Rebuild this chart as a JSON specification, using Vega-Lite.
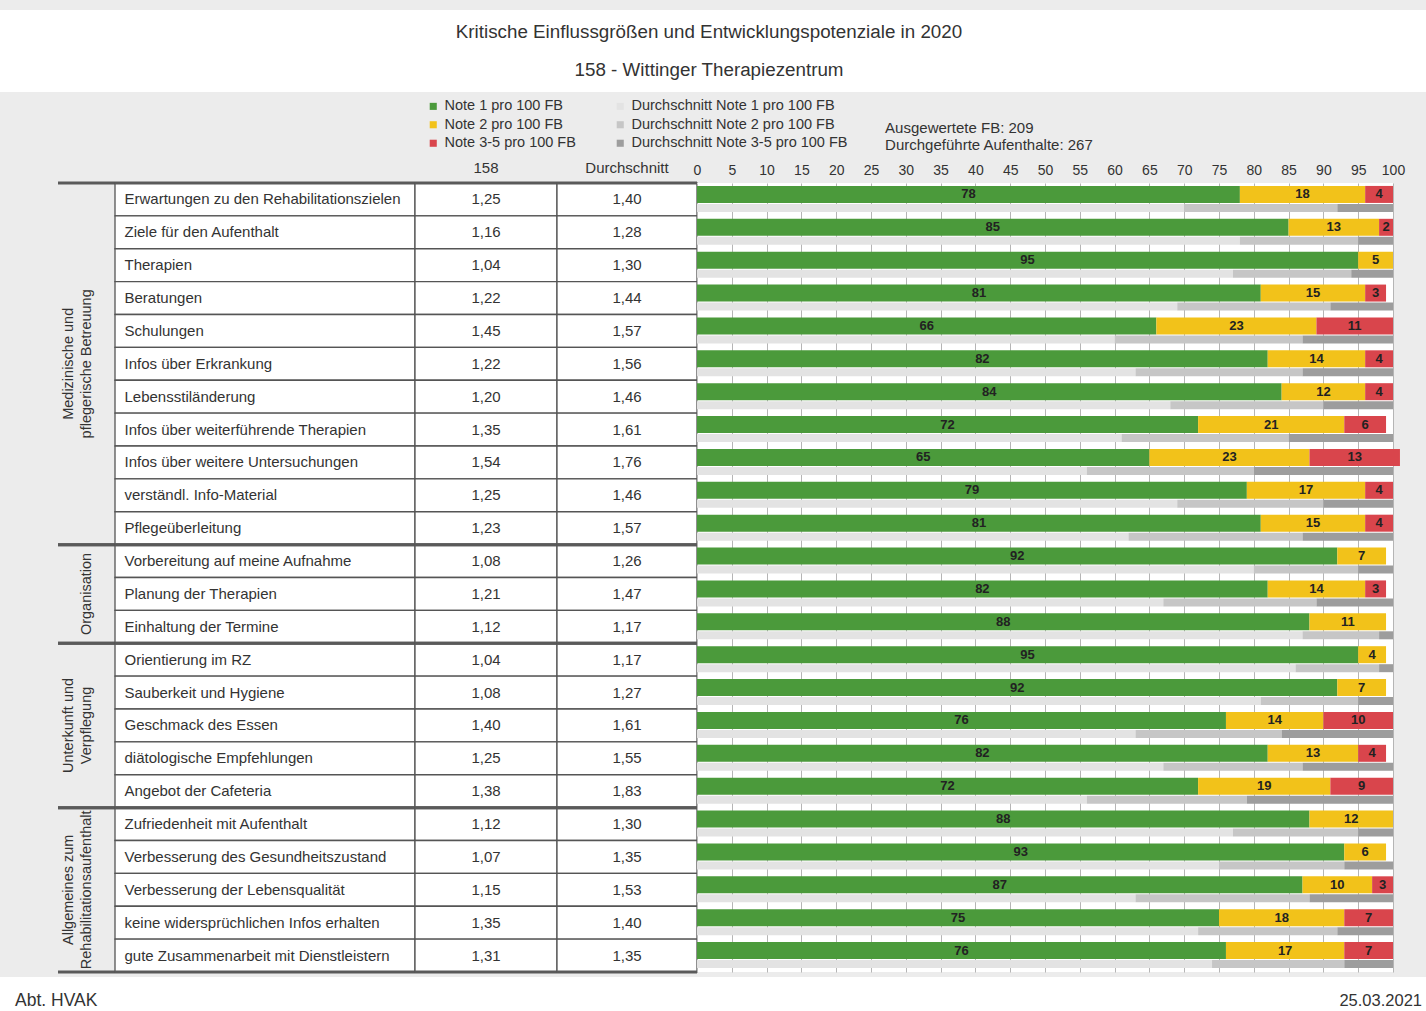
{
  "$schema": "https://vega.github.io/schema/vega-lite/v6.json",
  "background": "#ececec",
  "padding": {"left": 0, "right": 0, "top": 10, "bottom": 0},
  "config": {
    "font": "Liberation Sans",
    "view": {"stroke": null},
    "title": {"fontWeight": "normal", "color": "#333333", "fontSize": 15}
  },
  "datasets": {
    "rows": [
      {"item": "Erwartungen zu den Rehabilitationszielen", "group": "Medizinische und\npflegerische Betreuung", "s158": "1,25", "savg": "1,40", "n1": 78, "n2": 18, "n3": 4, "a1": 70, "a2": 22, "a3": 8},
      {"item": "Ziele für den Aufenthalt", "group": "Medizinische und\npflegerische Betreuung", "s158": "1,16", "savg": "1,28", "n1": 85, "n2": 13, "n3": 2, "a1": 78, "a2": 17, "a3": 5},
      {"item": "Therapien", "group": "Medizinische und\npflegerische Betreuung", "s158": "1,04", "savg": "1,30", "n1": 95, "n2": 5, "n3": 0, "a1": 77, "a2": 17, "a3": 6},
      {"item": "Beratungen", "group": "Medizinische und\npflegerische Betreuung", "s158": "1,22", "savg": "1,44", "n1": 81, "n2": 15, "n3": 3, "a1": 69, "a2": 22, "a3": 9},
      {"item": "Schulungen", "group": "Medizinische und\npflegerische Betreuung", "s158": "1,45", "savg": "1,57", "n1": 66, "n2": 23, "n3": 11, "a1": 60, "a2": 27, "a3": 13},
      {"item": "Infos über Erkrankung", "group": "Medizinische und\npflegerische Betreuung", "s158": "1,22", "savg": "1,56", "n1": 82, "n2": 14, "n3": 4, "a1": 63, "a2": 24, "a3": 13},
      {"item": "Lebensstiländerung", "group": "Medizinische und\npflegerische Betreuung", "s158": "1,20", "savg": "1,46", "n1": 84, "n2": 12, "n3": 4, "a1": 68, "a2": 22, "a3": 10},
      {"item": "Infos über weiterführende Therapien", "group": "Medizinische und\npflegerische Betreuung", "s158": "1,35", "savg": "1,61", "n1": 72, "n2": 21, "n3": 6, "a1": 61, "a2": 24, "a3": 15},
      {"item": "Infos über weitere Untersuchungen", "group": "Medizinische und\npflegerische Betreuung", "s158": "1,54", "savg": "1,76", "n1": 65, "n2": 23, "n3": 13, "a1": 56, "a2": 24, "a3": 20},
      {"item": "verständl. Info-Material", "group": "Medizinische und\npflegerische Betreuung", "s158": "1,25", "savg": "1,46", "n1": 79, "n2": 17, "n3": 4, "a1": 69, "a2": 21, "a3": 10},
      {"item": "Pflegeüberleitung", "group": "Medizinische und\npflegerische Betreuung", "s158": "1,23", "savg": "1,57", "n1": 81, "n2": 15, "n3": 4, "a1": 62, "a2": 25, "a3": 13},
      {"item": "Vorbereitung auf meine Aufnahme", "group": "Organisation", "s158": "1,08", "savg": "1,26", "n1": 92, "n2": 7, "n3": 0, "a1": 80, "a2": 15, "a3": 5},
      {"item": "Planung der Therapien", "group": "Organisation", "s158": "1,21", "savg": "1,47", "n1": 82, "n2": 14, "n3": 3, "a1": 67, "a2": 22, "a3": 11},
      {"item": "Einhaltung der Termine", "group": "Organisation", "s158": "1,12", "savg": "1,17", "n1": 88, "n2": 11, "n3": 0, "a1": 87, "a2": 11, "a3": 2},
      {"item": "Orientierung im RZ", "group": "Unterkunft und\nVerpflegung", "s158": "1,04", "savg": "1,17", "n1": 95, "n2": 4, "n3": 0, "a1": 86, "a2": 12, "a3": 2},
      {"item": "Sauberkeit und Hygiene", "group": "Unterkunft und\nVerpflegung", "s158": "1,08", "savg": "1,27", "n1": 92, "n2": 7, "n3": 0, "a1": 81, "a2": 14, "a3": 5},
      {"item": "Geschmack des Essen", "group": "Unterkunft und\nVerpflegung", "s158": "1,40", "savg": "1,61", "n1": 76, "n2": 14, "n3": 10, "a1": 63, "a2": 21, "a3": 16},
      {"item": "diätologische Empfehlungen", "group": "Unterkunft und\nVerpflegung", "s158": "1,25", "savg": "1,55", "n1": 82, "n2": 13, "n3": 4, "a1": 67, "a2": 20, "a3": 13},
      {"item": "Angebot der Cafeteria", "group": "Unterkunft und\nVerpflegung", "s158": "1,38", "savg": "1,83", "n1": 72, "n2": 19, "n3": 9, "a1": 56, "a2": 23, "a3": 21},
      {"item": "Zufriedenheit mit Aufenthalt", "group": "Allgemeines zum\nRehabilitationsaufenthalt", "s158": "1,12", "savg": "1,30", "n1": 88, "n2": 12, "n3": 0, "a1": 77, "a2": 18, "a3": 5},
      {"item": "Verbesserung des Gesundheitszustand", "group": "Allgemeines zum\nRehabilitationsaufenthalt", "s158": "1,07", "savg": "1,35", "n1": 93, "n2": 6, "n3": 0, "a1": 75, "a2": 18, "a3": 7},
      {"item": "Verbesserung der Lebensqualität", "group": "Allgemeines zum\nRehabilitationsaufenthalt", "s158": "1,15", "savg": "1,53", "n1": 87, "n2": 10, "n3": 3, "a1": 63, "a2": 25, "a3": 12},
      {"item": "keine widersprüchlichen Infos erhalten", "group": "Allgemeines zum\nRehabilitationsaufenthalt", "s158": "1,35", "savg": "1,40", "n1": 75, "n2": 18, "n3": 7, "a1": 72, "a2": 20, "a3": 8},
      {"item": "gute Zusammenarbeit mit Dienstleistern", "group": "Allgemeines zum\nRehabilitationsaufenthalt", "s158": "1,31", "savg": "1,35", "n1": 76, "n2": 17, "n3": 7, "a1": 74, "a2": 19, "a3": 7}
    ]
  },
  "spacing": 3,
  "vconcat": [
    {
      "width": 1426,
      "height": 82,
      "view": {"fill": "white"},
      "data": {"values": [
        {"line": "Kritische Einflussgrößen und Entwicklungspotenziale in 2020"},
        {"line": "158 - Wittinger Therapiezentrum"}
      ]},
      "mark": {"type": "text", "fontSize": 18.8, "color": "#333333", "dx": -4},
      "encoding": {
        "y": {"field": "line", "type": "nominal", "sort": null, "axis": null, "scale": {"type": "band", "paddingInner": 0, "paddingOuter": 0.1}},
        "text": {"field": "line", "type": "nominal"}
      }
    },
    {
      "spacing": 0,
      "bounds": "flush",
      "hconcat": [
        {
          "width": 58,
          "height": 789,
          "title": {"text": "\u00a0", "offset": 73, "fontSize": 15},
          "data": {"values": []},
          "mark": "point"
        },
        {
          "width": 57,
          "height": 789,
          "data": {"name": "rows"},
          "transform": [
            {"window": [{"op": "row_number", "as": "rn"}], "groupby": ["group"]},
            {"joinaggregate": [{"op": "count", "as": "n"}], "groupby": ["group"]}
          ],
          "encoding": {
            "y": {"field": "item", "type": "nominal", "sort": null, "axis": null, "scale": {"type": "band", "paddingInner": 0, "paddingOuter": 0}}
          },
          "layer": [
            {
              "mark": {"type": "text", "angle": 270, "lineBreak": "\n", "baseline": "bottom", "dy": 7, "fontSize": 14.5, "lineHeight": 18, "color": "#333333"},
              "encoding": {
                "text": {"condition": {"test": "datum.rn == (datum.n + 1) / 2 && datum.group == 'Organisation'", "field": "group", "type": "nominal"}, "value": ""}
              }
            },
            {
              "mark": {"type": "text", "angle": 270, "lineBreak": "\n", "baseline": "bottom", "dy": -11, "fontSize": 14.5, "lineHeight": 18, "color": "#333333"},
              "encoding": {
                "text": {"condition": {"test": "datum.rn == (datum.n + 1) / 2 && datum.group != 'Organisation'", "field": "group", "type": "nominal"}, "value": ""}
              }
            },
            {
              "mark": {"type": "rule", "color": "#5a5a5a", "strokeWidth": 3},
              "encoding": {
                "y": {"field": "item", "type": "nominal", "sort": null, "axis": null, "bandPosition": 0},
                "opacity": {"condition": {"test": "datum.rn == 1", "value": 1}, "value": 0}
              }
            },
            {
              "mark": {"type": "rule", "color": "#5a5a5a", "strokeWidth": 3},
              "encoding": {
                "y": {"field": "item", "type": "nominal", "sort": null, "axis": null, "bandPosition": 1},
                "opacity": {"condition": {"test": "datum.rn == datum.n", "value": 1}, "value": 0}
              }
            }
          ]
        },
        {
          "width": 300,
          "height": 789,
          "data": {"name": "rows"},
          "transform": [
            {"window": [{"op": "row_number", "as": "rn"}], "groupby": ["group"]},
            {"joinaggregate": [{"op": "count", "as": "n"}], "groupby": ["group"]}
          ],
          "encoding": {
            "y": {"field": "item", "type": "nominal", "sort": null, "scale": {"type": "band", "paddingInner": 0, "paddingOuter": 0},
              "axis": {"orient": "left", "title": null, "domain": false, "ticks": false, "tickSize": 0, "labelPadding": -9, "labelAlign": "left", "labelFontSize": 15, "labelColor": "#333333", "labelLimit": 300, "zindex": 1}}
          },
          "layer": [
            {"mark": {"type": "rect", "fill": "white", "stroke": "#555555", "strokeWidth": 1.3}},
            {
              "mark": {"type": "rule", "color": "#5a5a5a", "strokeWidth": 3},
              "encoding": {
                "y": {"field": "item", "type": "nominal", "sort": null, "bandPosition": 0},
                "opacity": {"condition": {"test": "datum.rn == 1", "value": 1}, "value": 0}
              }
            },
            {
              "mark": {"type": "rule", "color": "#5a5a5a", "strokeWidth": 3},
              "encoding": {
                "y": {"field": "item", "type": "nominal", "sort": null, "bandPosition": 1},
                "opacity": {"condition": {"test": "datum.rn == datum.n", "value": 1}, "value": 0}
              }
            }
          ]
        },
        {
          "width": 142,
          "height": 789,
          "title": {"text": "158", "offset": 6},
          "data": {"name": "rows"},
          "transform": [
            {"window": [{"op": "row_number", "as": "rn"}], "groupby": ["group"]},
            {"joinaggregate": [{"op": "count", "as": "n"}], "groupby": ["group"]}
          ],
          "encoding": {
            "y": {"field": "item", "type": "nominal", "sort": null, "axis": null, "scale": {"type": "band", "paddingInner": 0, "paddingOuter": 0}}
          },
          "layer": [
            {"mark": {"type": "rect", "fill": "white", "stroke": "#555555", "strokeWidth": 1.3}},
            {"mark": {"type": "text", "fontSize": 15, "color": "#333333"}, "encoding": {"text": {"field": "s158", "type": "nominal"}}},
            {
              "mark": {"type": "rule", "color": "#5a5a5a", "strokeWidth": 3},
              "encoding": {
                "y": {"field": "item", "type": "nominal", "sort": null, "axis": null, "bandPosition": 0},
                "opacity": {"condition": {"test": "datum.rn == 1", "value": 1}, "value": 0}
              }
            },
            {
              "mark": {"type": "rule", "color": "#5a5a5a", "strokeWidth": 3},
              "encoding": {
                "y": {"field": "item", "type": "nominal", "sort": null, "axis": null, "bandPosition": 1},
                "opacity": {"condition": {"test": "datum.rn == datum.n", "value": 1}, "value": 0}
              }
            }
          ]
        },
        {
          "width": 140,
          "height": 789,
          "title": {"text": "Durchschnitt", "offset": 6},
          "data": {"name": "rows"},
          "transform": [
            {"window": [{"op": "row_number", "as": "rn"}], "groupby": ["group"]},
            {"joinaggregate": [{"op": "count", "as": "n"}], "groupby": ["group"]}
          ],
          "encoding": {
            "y": {"field": "item", "type": "nominal", "sort": null, "axis": null, "scale": {"type": "band", "paddingInner": 0, "paddingOuter": 0}}
          },
          "layer": [
            {"mark": {"type": "rect", "fill": "white", "stroke": "#555555", "strokeWidth": 1.3}},
            {"mark": {"type": "text", "fontSize": 15, "color": "#333333"}, "encoding": {"text": {"field": "savg", "type": "nominal"}}},
            {
              "mark": {"type": "rule", "color": "#5a5a5a", "strokeWidth": 3},
              "encoding": {
                "y": {"field": "item", "type": "nominal", "sort": null, "axis": null, "bandPosition": 0},
                "opacity": {"condition": {"test": "datum.rn == 1", "value": 1}, "value": 0}
              }
            },
            {
              "mark": {"type": "rule", "color": "#5a5a5a", "strokeWidth": 3},
              "encoding": {
                "y": {"field": "item", "type": "nominal", "sort": null, "axis": null, "bandPosition": 1},
                "opacity": {"condition": {"test": "datum.rn == datum.n", "value": 1}, "value": 0}
              }
            }
          ]
        },
        {
          "width": 696,
          "height": 789,
          "view": {"fill": "white"},
          "title": {"text": ["Ausgewertete FB: 209", "Durchgeführte Aufenthalte: 267"], "anchor": "start", "align": "left", "dx": 192, "offset": 10, "lineHeight": 17},
          "data": {"name": "rows"},
          "resolve": {"axis": {"x": "independent"}},
          "encoding": {
            "y": {"field": "item", "type": "nominal", "sort": null, "axis": null, "scale": {"type": "band", "paddingInner": 0, "paddingOuter": 0}}
          },
          "layer": [
            {
              "transform": [{"fold": ["a1", "a2", "a3"], "as": ["key", "value"]}],
              "mark": {"type": "bar", "height": 8, "yOffset": 8.5},
              "encoding": {
                "x": {"field": "value", "type": "quantitative", "stack": "zero", "scale": {"domain": [0, 100], "nice": false},
                  "axis": {"orient": "top", "values": [0, 5, 10, 15, 20, 25, 30, 35, 40, 45, 50, 55, 60, 65, 70, 75, 80, 85, 90, 95, 100], "title": null, "domain": false, "ticks": false, "tickSize": 0, "labelPadding": 6, "labelFontSize": 14, "labelColor": "#333333", "labelOverlap": false, "labelSeparation": 0, "grid": true, "gridColor": "#b5b5b5", "gridWidth": 1, "labelFlush": false}},
                "color": {"field": "key", "type": "nominal",
                  "scale": {"domain": ["n1", "n2", "n3", "a1", "a2", "a3"], "range": ["#4b9a3b", "#f2c21a", "#d9454c", "#e3e3e3", "#c6c6c6", "#9d9d9d"]},
                  "legend": {"orient": "none", "legendX": 426, "legendY": 89, "columns": 2, "title": null, "symbolType": "square", "symbolSize": 50, "symbolStrokeWidth": 0, "labelFontSize": 14.5, "labelColor": "#333333", "labelLimit": 300, "columnPadding": 37, "rowPadding": 3.5, "padding": 0,
                    "labelExpr": "{'n1': 'Note 1 pro 100 FB', 'a1': 'Durchschnitt Note 1 pro 100 FB', 'n2': 'Note 2 pro 100 FB', 'a2': 'Durchschnitt Note 2 pro 100 FB', 'n3': 'Note 3-5 pro 100 FB', 'a3': 'Durchschnitt Note 3-5 pro 100 FB'}[datum.label]"}},
                "order": {"field": "key", "type": "ordinal", "sort": "ascending"}
              }
            },
            {
              "transform": [{"fold": ["n1", "n2", "n3"], "as": ["key", "value"]}],
              "mark": {"type": "bar", "height": 17, "yOffset": -5},
              "encoding": {
                "x": {"field": "value", "type": "quantitative", "stack": "zero", "axis": null},
                "color": {"field": "key", "type": "nominal"},
                "order": {"field": "key", "type": "ordinal", "sort": "ascending"}
              }
            },
            {
              "transform": [
                {"fold": ["n1", "n2", "n3"], "as": ["key", "value"]},
                {"stack": "value", "groupby": ["item"], "sort": [{"field": "key", "order": "ascending"}], "as": ["v0", "v1"]},
                {"filter": "datum.value > 0"},
                {"fold": ["v0", "v1"], "as": ["edge", "pos"]}
              ],
              "mark": {"type": "text", "yOffset": -5, "fontSize": 13, "fontWeight": "bold", "color": "#222222"},
              "encoding": {
                "x": {"aggregate": "mean", "field": "pos", "type": "quantitative", "axis": null},
                "detail": {"field": "key", "type": "nominal"},
                "text": {"field": "value", "type": "quantitative"}
              }
            }
          ]
        }
      ]
    },
    {
      "width": 1426,
      "height": 34,
      "view": {"fill": "white"},
      "data": {"values": [{"t": "Abt. HVAK"}, {"t": "25.03.2021"}]},
      "layer": [
        {
          "transform": [{"filter": "datum.t == 'Abt. HVAK'"}],
          "mark": {"type": "text", "align": "left", "dx": 15, "dy": 7, "fontSize": 17.5, "color": "#333333"},
          "encoding": {
            "x": {"field": "t", "type": "nominal", "sort": "descending", "axis": null, "bandPosition": 0, "scale": {"type": "band", "paddingInner": 0, "paddingOuter": 0}},
            "text": {"field": "t", "type": "nominal"}
          }
        },
        {
          "transform": [{"filter": "datum.t == '25.03.2021'"}],
          "mark": {"type": "text", "align": "right", "dx": -4, "dy": 7, "fontSize": 16.5, "color": "#333333"},
          "encoding": {
            "x": {"field": "t", "type": "nominal", "sort": "descending", "axis": null, "bandPosition": 1},
            "text": {"field": "t", "type": "nominal"}
          }
        }
      ]
    }
  ]
}
